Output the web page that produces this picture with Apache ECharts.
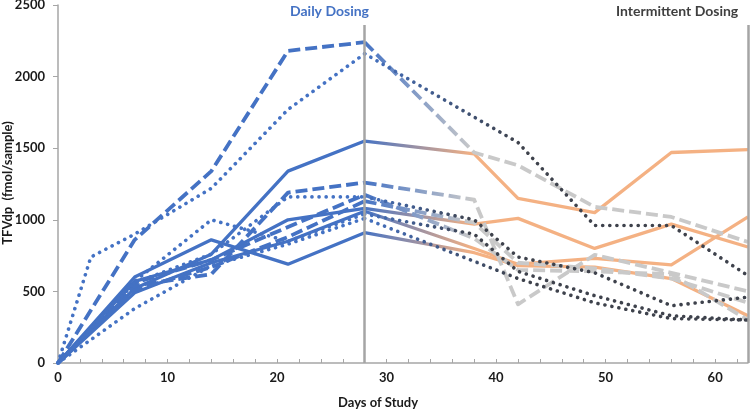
<!DOCTYPE html>
<html><head><meta charset="utf-8">
<script src="https://cdn.jsdelivr.net/npm/echarts@6/dist/echarts.min.js"></script>
<style>html,body{margin:0;padding:0;background:#fff}#c{width:750px;height:414px}</style>
</head><body><div id="c"></div>
<script>
// ---- data ----
const xTickValues = [0, 10, 20, 30, 40, 50, 60];
const yTickValues = [0, 500, 1000, 1500, 2000, 2500];
const phaseBoundaryDays = [28, 63];
const boundaryTopValue = 2360;

const dailyDays = [0, 7, 14, 21, 28];
const dailyDaysWithDay3 = [0, 3, 7, 14, 21, 28];
const interDays = [28, 38, 42, 49, 56, 63];
const interDaysNo38 = [28, 42, 49, 56, 63];

// solid (daily: blue solid, intermittent: orange solid)
const solid1Daily = [0, 520, 760, 1340, 1550];
const solid1Inter = [1550, 1460, 1150, 1050, 1470, 1490];
const solid2Daily = [0, 600, 860, 690, 910];
const solid2Inter = [910, 770, 680, 670, 590, 330];
const solid3Daily = [0, 570, 720, 1000, 1080];
const solid3Inter = [1080, 970, 1010, 800, 970, 810];
const solid4Daily = [0, 490, 700, 850, 1060];
const solid4Inter = [1060, 800, 690, 730, 685, 1020];

// dashed (daily: blue dashed, intermittent: gray dashed)
const dashed1Daily = [0, 860, 1340, 2180, 2240];
const dashed1Inter = [2240, 1470, 1380, 1090, 1020, 845];
const dashed2Daily = [0, 540, 620, 1190, 1260];
const dashed2Inter = [1260, 1140, 410, 755, 630, 500];
const dashed3Daily = [0, 560, 720, 950, 1175];
const dashed3Inter = [1175, 870, 650, 640, 620, 300];
const dashed4Daily = [0, 510, 670, 880, 1130];
const dashed4Inter = [1130, 980, 700, 660, 590, 420];

// dotted (daily: blue dotted, intermittent: dark dotted)
const dotted1Daily = [0, 740, 900, 1220, 1770, 2160];
const dotted1Inter = [2160, 1540, 960, 960, 610];
const dotted2Daily = [0, 570, 1000, 850, 1040];
const dotted2Inter = [1040, 900, 640, 470, 330, 300];
const dotted3Daily = [0, 380, 680, 830, 1010];
const dotted3Inter = [1010, 590, 420, 310, 300];
const dotted4Daily = [0, 560, 760, 1160, 1160];
const dotted4Inter = [1160, 1000, 740, 630, 400, 460];

const participants = [
  ['solid', dailyDays, solid1Daily, interDays, solid1Inter],
  ['solid', dailyDays, solid2Daily, interDays, solid2Inter],
  ['solid', dailyDays, solid3Daily, interDays, solid3Inter],
  ['solid', dailyDays, solid4Daily, interDays, solid4Inter],
  ['dashed', dailyDays, dashed1Daily, interDays, dashed1Inter],
  ['dashed', dailyDays, dashed2Daily, interDays, dashed2Inter],
  ['dashed', dailyDays, dashed3Daily, interDays, dashed3Inter],
  ['dashed', dailyDays, dashed4Daily, interDays, dashed4Inter],
  ['dotted', dailyDaysWithDay3, dotted1Daily, interDaysNo38, dotted1Inter],
  ['dotted', dailyDays, dotted2Daily, interDays, dotted2Inter],
  ['dotted', dailyDays, dotted3Daily, interDaysNo38, dotted3Inter],
  ['dotted', dailyDays, dotted4Daily, interDays, dotted4Inter]
];

// ---- styles ----
const BLUE = '#4472C4';
const styles = {
  solid: { width: 3.3, type: 'solid', cap: 'butt', inter: '#F4B183' },
  dashed: { width: 3.8, type: [12, 5], cap: 'butt', inter: '#C9C9C9' },
  dotted: { width: 3.6, type: [0.1, 7], cap: 'round', inter: '#3E424C' }
};
const FONT = 'Lato';

const zip = (xs, ys) => xs.map((x, i) => [x, ys[i]]);
const series = [];
participants.forEach(([st, dx, dy, ix, iy]) => {
  const s = styles[st];
  series.push({
    type: 'line', data: zip(dx, dy), symbol: 'none', silent: true, z: 3,
    lineStyle: { color: BLUE, width: s.width, type: s.type, cap: s.cap, join: 'round' }
  });
  const span = ix[ix.length - 1] - ix[0];
  const f = (ix[1] - ix[0]) / span;
  series.push({
    type: 'line', data: zip(ix, iy), symbol: 'none', silent: true, z: 2,
    lineStyle: {
      width: s.width, type: s.type, cap: s.cap, join: 'round',
      color: { type: 'linear', x: 0, y: 0, x2: 1, y2: 0,
        colorStops: [{ offset: 0, color: BLUE }, { offset: f, color: s.inter }, { offset: 1, color: s.inter }] }
    }
  });
});
series.push({
  type: 'line', data: [], silent: true,
  markLine: {
    symbol: 'none', silent: true, label: { show: false },
    lineStyle: { color: '#A5A5A5', width: 2.5, type: 'solid' },
    data: phaseBoundaryDays.map(d => [{ coord: [d, 0] }, { coord: [d, boundaryTopValue] }])
  }
});

const chart = echarts.init(document.getElementById('c'), null, { renderer: 'canvas' });
chart.setOption({
  animation: false,
  grid: { left: 58, right: 2, top: 5, bottom: 51, containLabel: false, outerBoundsMode: 'none' },
  xAxis: {
    type: 'value', min: 0, max: 63, interval: 10,
    axisLine: { lineStyle: { color: '#A6A6A6', width: 1.5 } },
    axisTick: { inside: true, length: 4, lineStyle: { color: '#A6A6A6', width: 1 } },
    minorTick: { show: true, splitNumber: 5, length: 4, lineStyle: { color: '#A6A6A6', width: 1 } },
    splitLine: { show: false },
    axisLabel: { showMaxLabel: false, margin: 8, color: '#1a1a1a', fontFamily: FONT, fontWeight: 'bold', fontSize: 13,
      formatter: v => xTickValues.includes(v) ? String(v) : '' }
  },
  yAxis: {
    type: 'value', min: 0, max: 2500, interval: 500,
    axisLine: { show: true, lineStyle: { color: '#A6A6A6', width: 1.5 } },
    axisTick: { show: true, length: 5, lineStyle: { color: '#A6A6A6', width: 1 } },
    splitLine: { show: false },
    axisLabel: { margin: 13, color: '#1a1a1a', fontFamily: FONT, fontWeight: 'bold', fontSize: 13,
      formatter: v => yTickValues.includes(v) ? String(v) : '' }
  },
  graphic: [
    { type: 'text', left: 290, top: 4, style: { text: 'Daily Dosing', fill: BLUE, font: 'bold 14px ' + FONT } },
    { type: 'text', left: 616, top: 4, style: { text: 'Intermittent Dosing', fill: '#404040', font: 'bold 14px ' + FONT } },
    { type: 'text', left: 338, top: 396, style: { text: 'Days of Study', fill: '#1a1a1a', font: 'bold 13px ' + FONT } },
    { type: 'text', x: 8, y: 183, rotation: Math.PI / 2,
      style: { text: 'TFVdp  (fmol/sample)', fill: '#1a1a1a', font: 'bold 13px ' + FONT, align: 'center', verticalAlign: 'middle' } }
  ],
  series
});
</script></body></html>
